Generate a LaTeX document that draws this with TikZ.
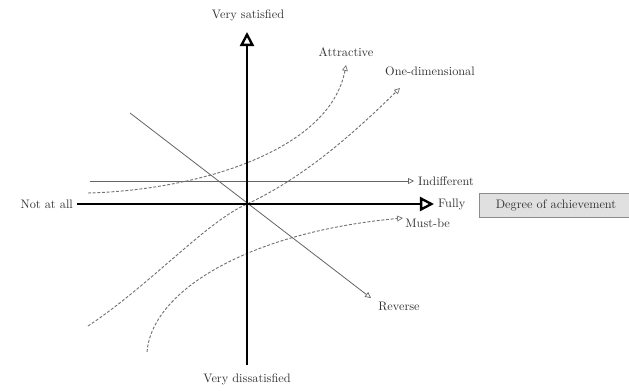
\documentclass[tikz,border=0pt]{standalone}
\usetikzlibrary{arrows.meta}
\begin{document}
\begin{tikzpicture}[x=0.03cm, y=-0.03cm,
    etichetta/.style={font=\fontsize{10.5}{12.6}\selectfont, text=black!80},
    asse/.style={line width=2.4pt, -{Triangle[open, length=12pt, width=12pt, line width=2pt]}},
    retta/.style={black!60, line width=0.7pt, -{Triangle[open, length=5pt, width=5pt, line width=0.6pt]}},
    curva/.style={black!55, line width=0.8pt, dash pattern=on 2.5pt off 1.5pt, -{Triangle[open, length=5pt, width=5pt, line width=0.6pt]}}]
    \useasboundingbox (0,0) rectangle (629,390);
    % Etichette degli assi
    \node[etichetta] (alto) at (248,15) {Very satisfied};
    \node[etichetta] (basso) at (247,379) {Very dissatisfied};
    \node[etichetta, anchor=east] (nulla) at (77,204) {Not at all};
    \node[etichetta, anchor=west] (pieno) at (434,204) {Fully};
    \node[etichetta, draw=black!45, fill=black!12, minimum width=4.6cm, minimum height=0.72cm] (grado) at (556,205) {Degree of achievement};
    % Etichette delle curve
    \node[etichetta] (attr) at (346,52) {Attractive};
    \node[etichetta] (unidim) at (430,71) {One-dimensional};
    \node[etichetta, anchor=west] (indiff) at (414,181) {Indifferent};
    \node[etichetta, anchor=west, inner sep=1pt] (obbl) at (404,223) {Must-be};
    \node[etichetta] (inv) at (399,306) {Reverse};
    % Punti
    \coordinate (O) at (247,204);
    \coordinate (cima) at (247,32);
    \coordinate (fondo) at (247,365);
    \coordinate (ind0) at (90,181);
    \coordinate (inv0) at (130,113);
    \coordinate (inv1) at (371,298);
    \coordinate (att0) at (88,193);
    \coordinate (att1) at (346,65);
    \coordinate (uni0) at (88,326);
    \coordinate (uni1) at (400,88);
    \coordinate (obb0) at (147,352);
    \coordinate (obb1) at (403,218);
    % Rette
    \draw[retta] (ind0) -- (indiff.west);
    \draw[retta] (inv0) -- (inv1);
    % Curve tratteggiate
    \draw[curva] (att0) .. controls (200,190) and (330,150) .. (att1);
    \draw[curva] (uni0) .. controls (150,285) and (206,222) .. (O)
      .. controls (310,175) and (365,122) .. (uni1);
    \draw[curva] (obb0) .. controls (152,290) and (250,232) .. (obb1);
    % Assi
    \draw[asse] (fondo) -- (cima);
    \draw[asse] (nulla.east) -- (pieno.west);
\end{tikzpicture}
\end{document}
